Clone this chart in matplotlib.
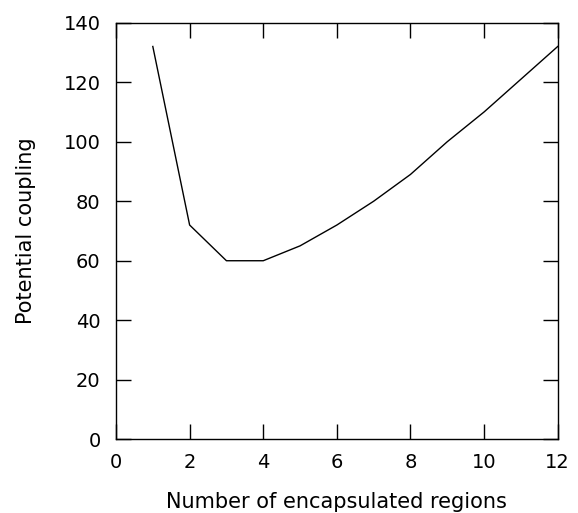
import matplotlib
matplotlib.use("Agg")
import matplotlib.pyplot as plt

# number of encapsulated regions vs. potential coupling
regions = [1, 2, 3, 4, 5, 6, 7, 8, 9, 10, 11, 12]
coupling = [132, 72, 60, 60, 65, 72, 80, 89, 100, 110, 121, 132]

x_ticks = [0, 2, 4, 6, 8, 10, 12]
y_ticks = [0, 20, 40, 60, 80, 100, 120, 140]

plt.rcParams["font.family"] = ["DejaVu Sans"]

fig = plt.figure(figsize=(5.78, 5.13), dpi=100)
ax = fig.add_axes([0.2007, 0.1437, 0.7642, 0.8121])

ax.plot(regions, coupling, color="black", linewidth=1.0)

ax.set_xlim(0, 12)
ax.set_ylim(0, 140)
ax.set_xticks(x_ticks)
ax.set_yticks(y_ticks)

# inward ticks on all four sides, labels only bottom/left
ax.tick_params(direction="in", length=10.5, width=1.0, labelsize=14,
               top=True, right=True, color="black")
ax.tick_params(axis="x", pad=10)
ax.tick_params(axis="y", pad=11)
for s in ax.spines.values():
    s.set_linewidth(1.0)

ax.set_xlabel("Number of encapsulated regions", fontsize=15, labelpad=14)
ax.set_ylabel("Potential coupling", fontsize=15, labelpad=20)

fig.savefig("out.png", dpi=100)
